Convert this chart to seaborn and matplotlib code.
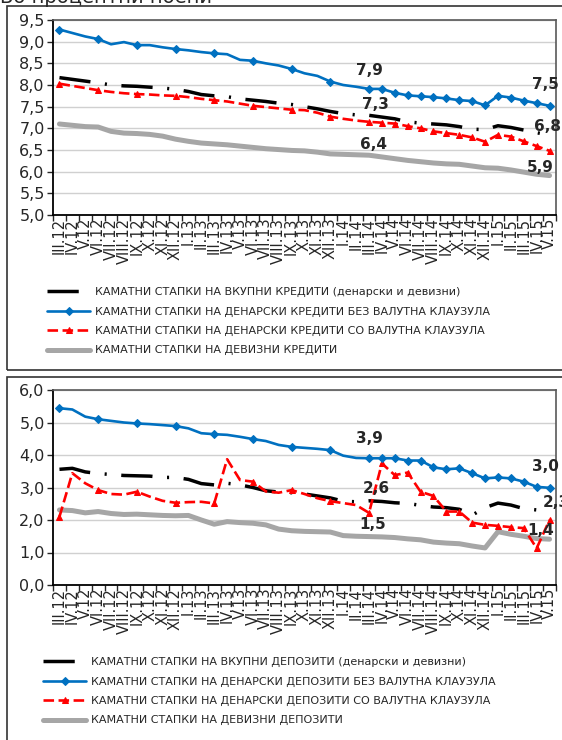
import numpy as np
import matplotlib
matplotlib.use("Agg")
import matplotlib.pyplot as plt
from matplotlib.patches import Rectangle
import seaborn as sns

months = ["III.12", "IV.12", "V.12", "VI.12", "VII.12", "VIII.12", "IX.12", "X.12", "XI.12", "XII.12",
          "I.13", "II.13", "III.13", "IV.13", "V.13", "VI.13", "VII.13", "VIII.13", "IX.13", "X.13", "XI.13", "XII.13",
          "I.14", "II.14", "III.14", "IV.14", "V.14", "VI.14", "VII.14", "VIII.14", "IX.14", "X.14", "XI.14", "XII.14",
          "I.15", "II.15", "III.15", "IV.15", "V.15"]

# kamatni stapki na krediti
loans_total = [8.17, 8.13, 8.09, 8.05, 8.00, 7.98, 7.97, 7.95, 7.93, 7.90, 7.85, 7.78, 7.75, 7.73, 7.68, 7.65,
               7.62, 7.58, 7.55, 7.50, 7.45, 7.39, 7.34, 7.31, 7.30, 7.26, 7.22, 7.15, 7.12, 7.10, 7.08, 7.04,
               6.98, 6.97, 7.06, 7.02, 6.96, 6.90, 6.84]
loans_den = [9.28, 9.20, 9.12, 9.06, 8.94, 8.99, 8.92, 8.92, 8.87, 8.83, 8.80, 8.76, 8.73, 8.71, 8.58, 8.56,
             8.50, 8.45, 8.37, 8.27, 8.21, 8.08, 8.00, 7.96, 7.91, 7.91, 7.82, 7.76, 7.74, 7.72, 7.69, 7.65,
             7.63, 7.53, 7.75, 7.71, 7.64, 7.58, 7.52]
loans_clause = [8.03, 7.98, 7.93, 7.88, 7.84, 7.81, 7.79, 7.78, 7.76, 7.75, 7.72, 7.68, 7.65, 7.62, 7.57, 7.52,
                7.49, 7.46, 7.43, 7.42, 7.36, 7.27, 7.22, 7.18, 7.15, 7.13, 7.11, 7.05, 7.00, 6.93, 6.89, 6.85,
                6.79, 6.69, 6.85, 6.81, 6.70, 6.59, 6.48]
loans_fx = [7.10, 7.07, 7.04, 7.03, 6.93, 6.89, 6.88, 6.86, 6.82, 6.75, 6.70, 6.66, 6.64, 6.62, 6.59, 6.56,
            6.53, 6.51, 6.49, 6.48, 6.45, 6.41, 6.40, 6.39, 6.38, 6.34, 6.30, 6.26, 6.23, 6.20, 6.18, 6.17,
            6.13, 6.09, 6.08, 6.04, 5.99, 5.94, 5.91]

# kamatni stapki na depoziti
dep_total = [3.56, 3.59, 3.48, 3.43, 3.40, 3.37, 3.36, 3.35, 3.31, 3.31, 3.25, 3.12, 3.08, 3.13, 3.08, 3.00,
             2.90, 2.86, 2.84, 2.80, 2.74, 2.68, 2.58, 2.56, 2.59, 2.57, 2.53, 2.51, 2.45, 2.40, 2.38, 2.33,
             2.15, 2.38, 2.52, 2.46, 2.35, 2.31, 2.30]
dep_den = [5.44, 5.40, 5.18, 5.10, 5.05, 5.00, 4.97, 4.95, 4.92, 4.89, 4.82, 4.67, 4.64, 4.62, 4.56, 4.49,
           4.43, 4.31, 4.25, 4.22, 4.19, 4.15, 3.98, 3.91, 3.90, 3.90, 3.90, 3.83, 3.83, 3.62, 3.56, 3.59,
           3.44, 3.28, 3.31, 3.28, 3.18, 3.02, 2.99]
dep_clause = [2.10, 3.44, 3.13, 2.92, 2.80, 2.78, 2.87, 2.72, 2.59, 2.53, 2.55, 2.56, 2.51, 3.87, 3.23, 3.18,
              2.88, 2.84, 2.92, 2.80, 2.67, 2.58, 2.52, 2.46, 2.22, 3.74, 3.38, 3.46, 2.87, 2.74, 2.26, 2.26,
              1.92, 1.85, 1.82, 1.78, 1.75, 1.13, 2.00]
dep_fx = [2.31, 2.29, 2.22, 2.26, 2.20, 2.17, 2.18, 2.16, 2.14, 2.13, 2.14, 2.00, 1.87, 1.95, 1.92, 1.90,
          1.85, 1.72, 1.67, 1.65, 1.64, 1.63, 1.52, 1.50, 1.49, 1.48, 1.46, 1.42, 1.39, 1.32, 1.29, 1.27,
          1.20, 1.14, 1.64, 1.56, 1.50, 1.43, 1.41]

loan_labels = ["КАМАТНИ СТАПКИ НА ВКУПНИ КРЕДИТИ (денарски и девизни)",
               "КАМАТНИ СТАПКИ НА ДЕНАРСКИ КРЕДИТИ БЕЗ ВАЛУТНА КЛАУЗУЛА",
               "КАМАТНИ СТАПКИ НА ДЕНАРСКИ КРЕДИТИ СО ВАЛУТНА КЛАУЗУЛА",
               "КАМАТНИ СТАПКИ НА ДЕВИЗНИ КРЕДИТИ"]
dep_labels = ["КАМАТНИ СТАПКИ НА ВКУПНИ ДЕПОЗИТИ (денарски и девизни)",
              "КАМАТНИ СТАПКИ НА ДЕНАРСКИ ДЕПОЗИТИ БЕЗ ВАЛУТНА КЛАУЗУЛА",
              "КАМАТНИ СТАПКИ НА ДЕНАРСКИ ДЕПОЗИТИ СО ВАЛУТНА КЛАУЗУЛА",
              "КАМАТНИ СТАПКИ НА ДЕВИЗНИ ДЕПОЗИТИ"]

BLUE = "#0070C0"
RED = "#FF0000"
GRAY = "#A6A6A6"
marks = [0, 3, 6, 9, 12, 15, 18, 21] + list(range(24, 39))


def comma(v):
    return f"{v:.1f}".replace(".", ",")


def draw_panel(ax, total, den, clause, fx, labels, yticks, notes):
    x = np.arange(len(months))
    sns.lineplot(x=x, y=fx, ax=ax, color=GRAY, linewidth=3.6, label=labels[3])
    sns.lineplot(x=x, y=total, ax=ax, color="black", linewidth=2.5,
                 linestyle=(0, (9, 4.2, 0.6, 4.2)), label=labels[0])
    sns.lineplot(x=x, y=clause, ax=ax, color=RED, linewidth=1.9, linestyle=(0, (4, 1.7)),
                 marker="^", markersize=5, markevery=marks, markeredgecolor=RED, label=labels[2])
    sns.lineplot(x=x, y=den, ax=ax, color=BLUE, linewidth=1.9, marker="D", markersize=4,
                 markevery=marks, markeredgecolor=BLUE, label=labels[1])
    ax.get_legend().remove()

    ax.set_xlim(-0.5, len(months) - 0.5)
    ax.set_ylim(yticks[0], yticks[-1])
    ax.set_yticks(yticks)
    ax.set_yticklabels([comma(v) for v in yticks], fontsize=11.5)
    ax.set_xticks(np.arange(len(months) + 1) - 0.5)
    ax.set_xticklabels([])
    ax.set_xticks(x, minor=True)
    ax.set_xticklabels(months, minor=True, rotation=90, fontsize=10.5)
    ax.tick_params(axis="x", which="major", length=4, width=1, direction="out", bottom=True)
    ax.tick_params(axis="x", which="minor", length=0, pad=2)
    ax.tick_params(axis="y", length=4, width=1, direction="out", left=True, pad=2)
    ax.grid(axis="y", color="#D0D0D0", linewidth=1)
    ax.set_axisbelow(True)
    for side in ["left", "bottom"]:
        ax.spines[side].set_color("black")
        ax.spines[side].set_linewidth(1.3)
    for side in ["top", "right"]:
        ax.spines[side].set_color("#595959")
        ax.spines[side].set_linewidth(1.2)

    series = [total, den, clause, fx]
    for k, i, dx, dy in notes:
        v = series[k][i]
        ax.annotate(comma(v), (i, v), xytext=(dx, dy), textcoords="offset points",
                    ha="center", va="center", fontsize=11, fontweight="bold",
                    annotation_clip=False)

    lines = ax.get_lines()
    return [lines[1], lines[3], lines[2], lines[0]]


sns.set_style("white")
plt.rcParams["font.family"] = ["DejaVu Sans"]

fig = plt.figure(figsize=(5.62, 7.40), dpi=100)

fig.patches.append(Rectangle((7 / 562, 1 - 370 / 740), 1.0, 364 / 740, transform=fig.transFigure,
                             fill=False, edgecolor="#333333", linewidth=1.2, zorder=0))
fig.patches.append(Rectangle((7 / 562, -0.05), 1.0, 0.05 + 1 - 377 / 740, transform=fig.transFigure,
                             fill=False, edgecolor="#333333", linewidth=1.2, zorder=0))
fig.text(0.0, 1 - 3 / 740, "Во процентни поени", fontsize=14, ha="left", va="baseline")

ax1 = fig.add_axes([53 / 562, 1 - 215 / 740, 503 / 562, 195 / 740])
h1 = draw_panel(ax1, loans_total, loans_den, loans_clause, loans_fx, loan_labels,
                [5.0, 5.5, 6.0, 6.5, 7.0, 7.5, 8.0, 8.5, 9.0, 9.5],
                [(1, 24, 0, 13.5), (1, 38, -3, 15), (0, 24, 5, 8), (0, 38, -1.5, 6.5),
                 (3, 24, 3, 7.5), (3, 38, -7, 6)])

ax2 = fig.add_axes([53 / 562, 1 - 585 / 740, 503 / 562, 195 / 740])
h2 = draw_panel(ax2, dep_total, dep_den, dep_clause, dep_fx, dep_labels,
                [0.0, 1.0, 2.0, 3.0, 4.0, 5.0, 6.0],
                [(1, 24, 0, 14.5), (1, 38, -3, 15), (0, 24, 5, 9), (0, 38, 4.5, 5.5),
                 (3, 24, 3, 8.5), (3, 38, -6.5, 6.5)])

legend_kw = dict(loc="upper left", frameon=False, fontsize=8, handlelength=3.9,
                 handletextpad=0.45, labelspacing=0.85, borderpad=0, borderaxespad=0)
fig.legend(h1, loan_labels, bbox_to_anchor=(47 / 562, 1 - 287 / 740), **legend_kw)
fig.legend(h2, dep_labels, bbox_to_anchor=(43 / 562, 1 - 657 / 740), **legend_kw)

fig.savefig("out.png", dpi=100)
